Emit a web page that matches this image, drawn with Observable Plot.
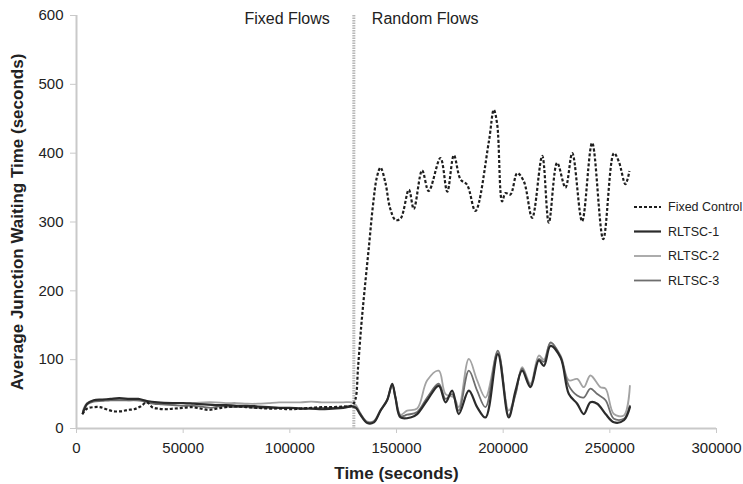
<!DOCTYPE html>
<html>
<head>
<meta charset="utf-8">
<script src="https://cdn.jsdelivr.net/npm/d3@7"></script>
<script src="https://cdn.jsdelivr.net/npm/@observablehq/plot@0.6"></script>
<style>
  html, body { margin: 0; padding: 0; background: #fff; }
  #wrap { position: relative; width: 743px; height: 484px; font-family: "Liberation Sans", Arial, sans-serif; }
  #wrap svg [aria-label="x-axis label"] text,
  #wrap svg [aria-label="y-axis label"] text { font-weight: bold; font-size: 17px; fill: #222; }
  #legend { position: absolute; left: 0; top: 0; }
</style>
</head>
<body>
<div id="wrap"></div>
<script>
// ---- data ----
const xTicks = [0, 50000, 100000, 150000, 200000, 250000, 300000];
const yTicks = [0, 100, 200, 300, 400, 500, 600];
const switchTime = 130000;
const phaseLabels = ["Fixed Flows", "Random Flows"];
const seriesNames = ["Fixed Control", "RLTSC-1", "RLTSC-2", "RLTSC-3"];

const fixedControl = [
  [2700,21],[5000,29],[8000,31],[11000,31],[14000,28],[17500,25],[21000,25],[24000,27],[27000,28],
  [30000,32],[33000,38],[35500,31],[38000,29],[42000,28],[46000,29],[50000,30],[54000,31],[58000,29],
  [62000,27],[66000,29],[70000,31],[75000,32],[80000,31],[85000,30],[90000,29],[95000,29],[100000,28],
  [105000,29],[110000,30],[115000,31],[120000,31],[125000,32],[129000,33],[130700,42],[132000,90],
  [133500,150],[135000,200],[137000,262],[139000,325],[140800,365],[142500,379],[144800,357],[147000,320],
  [149500,303],[151900,305],[155800,347],[158100,319],[162000,375],[165100,345],[170600,393],[173800,344],
  [176900,397],[180000,362],[183100,354],[187000,316],[193300,417],[195600,463],[197200,442],[199500,330],
  [201100,342],[203400,340],[206600,371],[209700,359],[213600,306],[218300,396],[221400,299],[225300,386],
  [229200,350],[232400,400],[237000,301],[241700,415],[246900,275],[251900,400],[254200,388],[257300,355],
  [259200,374]
];

const rltsc1 = [
  [3000,22],[5000,36],[8000,41],[12000,42],[16000,43],[20000,44],[25000,43],[29000,43],[33000,40],
  [38000,38],[45000,37],[50000,37],[55000,36],[60000,35],[65000,34],[70000,34],[75000,33],[80000,33],
  [85000,32],[90000,31],[95000,30],[100000,30],[105000,29],[110000,29],[115000,28],[120000,29],[125000,30],
  [129000,32],[131000,30],[133100,20],[136300,8],[139400,9],[142500,26],[145600,41],[148000,65],[149500,45],
  [151900,16],[156600,16],[159700,21],[164400,41],[169800,62],[173000,38],[176100,55],[179200,21],[183900,55],
  [187800,31],[191700,16],[197500,108],[202600,16],[205800,55],[208900,84],[212800,60],[216700,99],[219100,91],
  [222200,120],[226900,103],[230800,50],[234700,36],[237800,21],[240900,38],[244100,36],[248000,21],[251900,9],
  [256600,12],[259400,31]
];

const rltsc2 = [
  [3000,26],[5000,37],[8000,40],[12000,41],[16000,42],[20000,42],[25000,41],[30000,40],[34000,38],
  [40000,36],[45000,36],[50000,37],[55000,37],[60000,38],[65000,38],[70000,37],[75000,37],[80000,36],
  [85000,36],[90000,37],[95000,38],[100000,38],[105000,38],[110000,39],[115000,38],[120000,38],[125000,38],
  [129000,38],[131000,34],[133100,22],[136300,10],[139400,11],[142500,27],[145600,42],[148000,63],[149500,46],
  [151900,20],[155000,26],[159700,29],[164400,70],[169800,84],[173000,50],[177000,45],[179200,31],[183900,101],
  [187800,70],[191700,45],[197500,111],[202600,26],[205800,50],[208900,89],[212800,65],[216700,106],[219100,100],
  [222200,124],[226900,106],[230800,70],[234700,72],[237800,60],[240900,77],[245600,60],[248000,58],[251900,21],
  [256600,19],[259400,62]
];

const rltsc3 = [
  [3000,24],[5000,35],[8000,39],[12000,40],[16000,41],[20000,41],[25000,41],[30000,41],[34000,37],
  [40000,35],[45000,34],[50000,33],[55000,33],[60000,31],[63000,30],[67000,32],[70000,32],[75000,31],
  [80000,31],[85000,30],[90000,30],[95000,30],[100000,30],[105000,29],[110000,29],[115000,30],[120000,30],
  [125000,31],[129000,33],[131000,31],[133100,21],[136300,9],[139400,10],[142500,26],[145600,41],[148000,64],
  [149500,45],[151900,18],[155000,20],[159700,24],[164400,45],[169800,65],[173000,43],[176100,50],[179200,26],
  [183900,84],[187800,55],[191700,31],[197500,113],[202600,19],[205800,50],[208900,87],[212800,62],[216700,101],
  [219100,97],[222200,125],[226900,104],[230800,62],[234700,48],[237800,45],[240900,58],[244100,50],[248000,41],
  [251900,14],[256600,14],[259400,33]
];

// ---- styles ----
const styles = {
  "Fixed Control": {stroke: "#1e1e1e", strokeWidth: 2.2, strokeDasharray: "3,2"},
  "RLTSC-1": {stroke: "#2b2b2b", strokeWidth: 2.2, strokeDasharray: null},
  "RLTSC-2": {stroke: "#a3a3a3", strokeWidth: 1.8, strokeDasharray: null},
  "RLTSC-3": {stroke: "#6e6e6e", strokeWidth: 1.8, strokeDasharray: null}
};
const seriesData = {"Fixed Control": fixedControl, "RLTSC-1": rltsc1, "RLTSC-2": rltsc2, "RLTSC-3": rltsc3};
const drawOrder = ["RLTSC-2", "RLTSC-3", "RLTSC-1", "Fixed Control"];

const lineMarks = drawOrder.map(name => {
  const s = styles[name];
  const o = {x: d => d[0], y: d => d[1], stroke: s.stroke, strokeWidth: s.strokeWidth, curve: "catmull-rom"};
  if (s.strokeDasharray) { o.strokeDasharray = s.strokeDasharray; o.strokeLinecap = "butt"; }
  return Plot.line(seriesData[name], o);
});

const axisColor = "#c9c9c9";
const chart = Plot.plot({
  width: 743,
  height: 484,
  marginLeft: 76,
  marginRight: 27,
  marginTop: 15,
  marginBottom: 56,
  style: {fontFamily: "'Liberation Sans', Arial, sans-serif", fontSize: "15px", color: "#222", background: "#fff"},
  x: {domain: [0, 300000]},
  y: {domain: [0, 600]},
  marks: [
    Plot.ruleX([0], {stroke: axisColor, strokeWidth: 2}),
    Plot.ruleY([0], {stroke: axisColor, strokeWidth: 2}),
    Plot.axisX({ticks: xTicks, tickFormat: d => String(d), tickSize: 5, tickPadding: 9, stroke: axisColor,
      fill: "#222", fontSize: 15, label: "Time (seconds)", labelArrow: "none", labelAnchor: "center", labelOffset: 50}),
    Plot.axisY({ticks: yTicks, tickFormat: d => String(d), tickSize: 6, tickPadding: 7, stroke: axisColor,
      fill: "#222", fontSize: 15, label: "Average Junction Waiting Time (seconds)", labelArrow: "none", labelAnchor: "center", labelOffset: 66}),
    Plot.ruleX([switchTime], {stroke: "#b8b8b8", strokeWidth: 3, strokeDasharray: "1.5,1"}),
    Plot.text([phaseLabels[0]], {x: () => switchTime, text: d => d, frameAnchor: "top", lineAnchor: "middle",
      textAnchor: "end", dx: -24, dy: 3, fontSize: 16, fill: "#222"}),
    Plot.text([phaseLabels[1]], {x: () => switchTime, text: d => d, frameAnchor: "top", lineAnchor: "middle",
      textAnchor: "start", dx: 18, dy: 3, fontSize: 16, fill: "#222"}),
    ...lineMarks
  ]
});

const wrap = document.getElementById("wrap");
wrap.appendChild(chart);

// ---- legend overlay ----
const legend = d3.select(wrap).append("svg")
  .attr("id", "legend").attr("width", 743).attr("height", 484);
const legendX = 634, legendY0 = 207, legendStep = 24.5;
seriesNames.forEach((name, i) => {
  const s = styles[name];
  const y = legendY0 + i * legendStep;
  const ln = legend.append("line")
    .attr("x1", legendX).attr("x2", legendX + 27).attr("y1", y).attr("y2", y)
    .attr("stroke", s.stroke).attr("stroke-width", s.strokeWidth);
  if (s.strokeDasharray) ln.attr("stroke-dasharray", s.strokeDasharray);
  legend.append("text")
    .attr("x", legendX + 34).attr("y", y).attr("dy", "0.35em")
    .attr("font-family", "'Liberation Sans', Arial, sans-serif").attr("font-size", 12.5)
    .attr("fill", "#222").text(name);
});
</script>
</body>
</html>
